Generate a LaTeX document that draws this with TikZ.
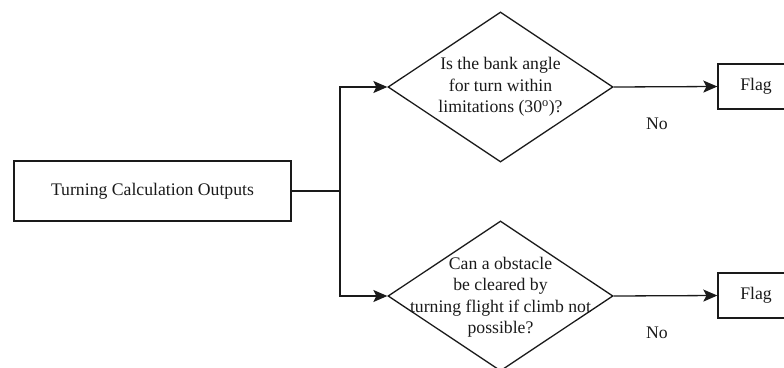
\documentclass[tikz,border=0pt]{standalone}
\usepackage{fontspec}
\setmainfont{Liberation Serif}
\usetikzlibrary{arrows.meta,positioning,calc,shapes.geometric}
\definecolor{ink}{HTML}{1A1A1A}

\begin{document}
\begin{tikzpicture}[x=1pt,y=-1pt,
  box/.style={draw=ink,line width=1.3pt,fill=white,inner sep=0pt},
  decision/.style={diamond,draw=ink,line width=1.3pt,inner sep=0pt,minimum width=225pt,minimum height=150pt},
  qtext/.style={font=\fontsize{17.7}{21.5}\selectfont,text=ink,align=center,inner sep=0pt},
  flow/.style={draw=ink,line width=1.3pt,-{Stealth[length=14pt,width=12pt,inset=3pt]}},
  wire/.style={draw=ink,line width=1.3pt}]
\useasboundingbox (0,0) rectangle (784,367);
% source box
\node[box,minimum width=277pt,minimum height=60pt,font=\fontsize{17.7}{21.5}\selectfont,text=ink] (outputs) at (152.5,191) {Turning Calculation Outputs};
\coordinate (split) at (340,191);
% decisions
\node[decision] (bank) at (500.5,87) {};
\node[qtext] (banktxt) at (bank) {Is the bank angle\\for turn within\\limitations (30\textsuperscript{o})?};
\node[decision] (obst) at (500.5,296) {};
\node[qtext] (obsttxt) at ($(obst)+(0,1)$) {Can a obstacle\\be cleared by\\turning flight if climb not\\possible?};
% flags
\node[box,minimum width=76pt,minimum height=45pt,font=\fontsize{17.7}{21.5}\selectfont,text=ink] (flagA) at (756,86.5) {Flag};
\node[box,minimum width=76pt,minimum height=45pt,font=\fontsize{17.7}{21.5}\selectfont,text=ink] (flagB) at (756,295.5) {Flag};
\node[qtext] (noA) at (657,124) {No};
\node[qtext] (noB) at (657,333) {No};
% connectors
\draw[wire] (outputs.east) -- (split);
\draw[flow] (split) |- (bank.west);
\draw[flow] (split) |- (obst.west);
\draw[flow] (bank.east) -- (flagA.west);
\draw[flow] (obst.east) -- (flagB.west);
\end{tikzpicture}
\end{document}
